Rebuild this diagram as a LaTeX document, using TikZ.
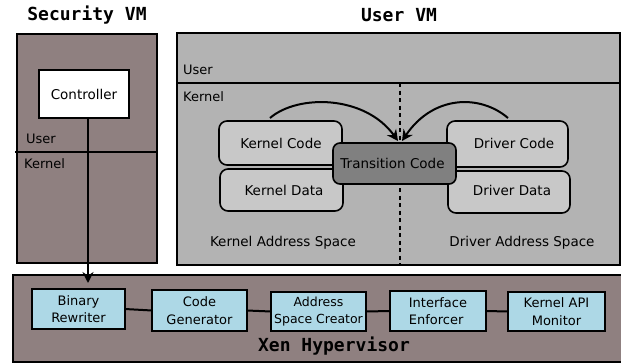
\documentclass[tikz,border=0pt]{standalone}
\usepackage{fontspec}
\setmainfont{DejaVu Sans}
\newfontfamily\titlefont{DejaVu Sans Mono}
\usetikzlibrary{arrows.meta}
\definecolor{mauve}{RGB}{143,128,128}
\definecolor{uvmgray}{RGB}{179,179,179}
\definecolor{innergray}{RGB}{200,200,200}
\definecolor{transgray}{RGB}{128,128,128}
\definecolor{compblue}{RGB}{173,216,230}
\tikzset{
  outerbox/.style={draw, line width=2pt, inner sep=0pt, outer sep=0pt},
  rbox/.style={draw, line width=1.6pt, rounded corners=8pt, fill=innergray, inner sep=0pt, outer sep=0pt},
  compbox/.style={draw, line width=2pt, fill=compblue, inner sep=0pt, outer sep=0pt, align=center, font=\fontsize{13}{17.5}\selectfont},
  lbl/.style={inner sep=0pt, font=\fontsize{13.5}{16}\selectfont},
  small/.style={inner sep=0pt, font=\fontsize{13}{16}\selectfont},
  ttl/.style={inner sep=0pt, font=\titlefont\bfseries\fontsize{18}{20}\selectfont},
  thick2/.style={line width=2pt},
  arr/.style={line width=2pt, -{Stealth[length=11pt,width=11pt]}}
}
\begin{document}
\begin{tikzpicture}[x=1pt,y=-1pt]
\useasboundingbox (0,0) rectangle (621,364);
\begin{scope}
\clip (0,0) rectangle (621,364);
% titles
\node[ttl] (tsec) at (87,15) {Security VM};
\node[ttl] (tuser) at (399,15) {User VM};

% Security VM
\node[outerbox, fill=mauve, minimum width=140pt, minimum height=229pt] (svm) at (87,148.5) {};
\coordinate (sl) at (15,152);
\coordinate (sr) at (158,152);
\draw[thick2] (sl) -- (sr);
\node[outerbox, fill=white, minimum width=90pt, minimum height=48pt, font=\fontsize{13.5}{16}\selectfont] (ctrl) at (84,94) {Controller};
\node[small, anchor=west] (su) at (26,139) {User};
\node[small, anchor=west] (sk) at (24,164) {Kernel};

% User VM
\node[outerbox, fill=uvmgray, minimum width=443pt, minimum height=232pt] (uvm) at (398.5,149) {};
\coordinate (ul) at (uvm.west |- 0,83);
\coordinate (ur) at (uvm.east |- 0,83);
\draw[thick2] (ul) -- (ur);
\coordinate (dtop) at (400,83);
\coordinate (dbot) at (400,265);
\draw[line width=2pt, dash pattern=on 4pt off 3.5pt] (dtop) -- (dbot);
\node[small, anchor=west] (uu) at (183,70) {User};
\node[small, anchor=west] (uk) at (183,97) {Kernel};

\node[rbox, minimum width=123pt, minimum height=44pt] (kc) at (280.5,143) {};
\node[rbox, minimum width=123pt, minimum height=42pt] (kd) at (281.5,190) {};
\node[rbox, minimum width=121pt, minimum height=46pt] (dc) at (507.5,144) {};
\node[rbox, minimum width=122pt, minimum height=42pt] (dd) at (509,192) {};
\node[rbox, fill=transgray, rounded corners=7pt, minimum width=123pt, minimum height=41pt] (tc) at (394.5,163.5) {};

\node[lbl] (kct) at (281,143) {Kernel Code};
\node[lbl] (kdt) at (284,190) {Kernel Data};
\node[lbl] (dct) at (514,143) {Driver Code};
\node[lbl] (ddt) at (512,190) {Driver Data};
\node[lbl] (tct) at (392.5,163) {Transition Code};

\coordinate (la) at (270,118);
\coordinate (lt) at (398,141);
\coordinate (ra) at (508,118);
\coordinate (rt) at (402,141);
\draw[arr] (la) .. controls (298,94) and (365,95) .. (lt);
\draw[arr] (ra) .. controls (480,94) and (433,95) .. (rt);

\node[lbl] (kas) at (283,243) {Kernel Address Space};
\node[lbl] (das) at (522,243) {Driver Address Space};

% Hypervisor
\node[outerbox, fill=mauve, minimum width=612pt, minimum height=87pt] (hyp) at (319,318.5) {};
\node[compbox, minimum width=93pt, minimum height=40pt] (br) at (78.5,309) {Binary\\Rewriter};
\node[compbox, minimum width=95pt, minimum height=41pt] (cg) at (199.5,310.5) {Code\\Generator};
\node[compbox, minimum width=95pt, minimum height=39pt, font=\fontsize{12.5}{17.5}\selectfont] (asc) at (318.5,311.5) {Address\\Space Creator};
\node[compbox, minimum width=96pt, minimum height=40pt, align=left] (ie) at (438,311) {Interface\\Enforcer};
\node[compbox, minimum width=97pt, minimum height=39pt] (kam) at (556.5,311.5) {Kernel API\\Monitor};
\draw[thick2] (br.east) -- (cg.west);
\draw[thick2] (cg.east) -- (asc.west);
\draw[thick2] (asc.east) -- (ie.west);
\draw[thick2] (ie.east) -- (kam.west);
\node[ttl] (txen) at (334,346) {Xen Hypervisor};

% controller arrow
\coordinate (cend) at (88,283);
\draw[line width=2pt, -{Stealth[length=11pt,width=11pt]}] (ctrl.south -| cend) -- (cend);
\end{scope}
\end{tikzpicture}
\end{document}
